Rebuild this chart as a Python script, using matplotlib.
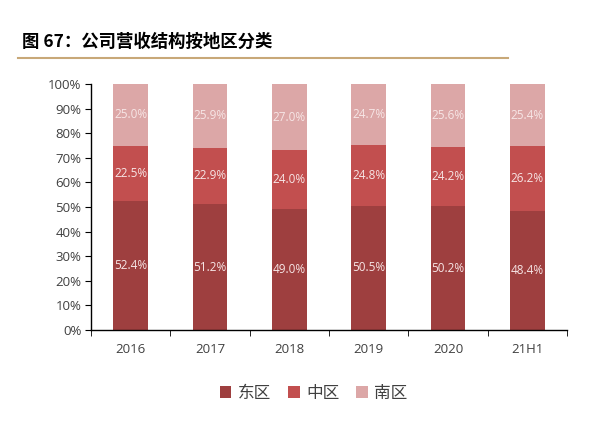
import matplotlib.pyplot as plt
import numpy as np

plt.rcParams['font.family'] = ['Open Sans', 'Noto Sans CJK SC', 'DejaVu Sans']

years = ['2016', '2017', '2018', '2019', '2020', '21H1']
east = [52.4, 51.2, 49.0, 50.5, 50.2, 48.4]
middle = [22.5, 22.9, 24.0, 24.8, 24.2, 26.2]
south = [25.0, 25.9, 27.0, 24.7, 25.6, 25.4]
series_names = ['东区', '中区', '南区']

colors = ['#9E3F3F', '#C24F4F', '#DCA7A7']

fig = plt.figure(figsize=(6.15, 4.22), dpi=100)
ax = fig.add_axes([0.148, 0.218, 0.774, 0.583])

x = np.arange(len(years))
w = 0.44
bottom = np.zeros(len(years))
for vals, name, c in zip([east, middle, south], series_names, colors):
    vals = np.array(vals)
    ax.bar(x, vals, w, bottom=bottom, color=c, label=name, zorder=2)
    for xi, b, v in zip(x, bottom, vals):
        ax.text(xi, b + v / 2, f'{v:.1f}%', ha='center', va='center',
                color='#F7E6E6', fontsize=8.5)
    bottom += vals

ax.set_xlim(-0.5, len(years) - 0.5)
ax.set_ylim(0, 100)
ax.set_yticks(np.arange(0, 101, 10))
ax.set_yticklabels([f'{v}%' for v in range(0, 101, 10)])
ax.set_xticks(x)
ax.set_xticklabels(years)
ax.set_xticks(np.arange(-0.5, len(years), 1), minor=True)
ax.tick_params(axis='x', which='major', length=0, pad=9)
ax.tick_params(axis='x', which='minor', length=4, direction='out')
ax.tick_params(axis='y', length=4, direction='out', pad=3)
ax.tick_params(labelsize=9.5, labelcolor='#404040')
for s in ['top', 'right']:
    ax.spines[s].set_visible(False)
ax.spines['left'].set_linewidth(1.0)
ax.spines['bottom'].set_linewidth(1.0)

fig.text(0.036, 0.9, '图 67：公司营收结构按地区分类', fontsize=12.5, fontweight='bold',
         family=['Noto Sans CJK SC', 'DejaVu Sans'], va='center')
fig.add_artist(plt.Line2D([0.03, 0.826], [0.862, 0.862], color='#C8A878', linewidth=1.5))

leg = fig.legend(loc='center', bbox_to_anchor=(0.51, 0.068), ncol=3, frameon=False,
                 handlelength=0.7, handleheight=0.7, handletextpad=0.4, columnspacing=1.0,
                 prop={'family': ['Noto Sans CJK SC', 'DejaVu Sans'], 'size': 12})
for t in leg.get_texts():
    t.set_color('#404040')

fig.savefig('out.png', dpi=100)
